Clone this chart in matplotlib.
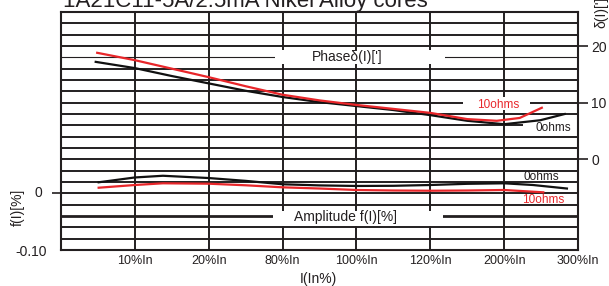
import matplotlib
matplotlib.use('Agg')
import matplotlib.pyplot as plt
from matplotlib.patches import Rectangle

plt.rcParams['font.family'] = ['Liberation Sans', 'DejaVu Sans']

title = "1A21C11-5A/2.5mA Nikel Alloy cores"
x_labels = ['10%In', '20%In', '80%In', '100%In', '120%In', '200%In', '300%In']

# x positions in category units (1 = 10%In ... 7 = 300%In)
phase_x_0ohm = [0.47, 1.0, 1.5, 2.0, 2.5, 3.0, 3.5, 4.0, 4.5, 5.0, 5.5, 6.0, 6.49, 6.82]
phase_0ohm = [17.2, 16.1, 14.7, 13.4, 12.1, 11.0, 10.1, 9.4, 8.7, 7.8, 6.8, 6.2, 6.9, 8.0]
phase_x_10ohm = [0.49, 1.0, 1.5, 2.0, 2.5, 3.0, 3.5, 4.0, 4.5, 5.0, 5.5, 5.9, 6.21, 6.51]
phase_10ohm = [18.8, 17.5, 16.0, 14.5, 12.9, 11.4, 10.4, 9.6, 8.9, 8.2, 7.1, 6.8, 7.3, 9.1]
amp_x_0ohm = [0.51, 1.0, 1.38, 2.0, 2.5, 3.0, 3.5, 4.0, 4.5, 5.0, 5.5, 6.0, 6.39, 6.85]
amp_0ohm = [0.0195, 0.028, 0.031, 0.027, 0.022, 0.016, 0.014, 0.013, 0.0133, 0.0147,
            0.0168, 0.0177, 0.0147, 0.0085]
amp_x_10ohm = [0.51, 1.0, 1.38, 2.0, 2.5, 3.0, 3.5, 4.0, 4.5, 5.0, 5.5, 6.0, 6.53]
amp_10ohm = [0.0099, 0.0147, 0.0177, 0.017, 0.0142, 0.0106, 0.0085, 0.0059, 0.005,
             0.0046, 0.005, 0.0059, 0.0018]

DARK = '#231f20'
RED = '#e8262a'
W, H = 609, 286
L, R, T, B = 61, 578, 12, 250

fig = plt.figure(figsize=(W / 100, H / 100), dpi=100)
ax = fig.add_axes([L / W, (H - B) / H, (R - L) / W, (B - T) / H])
ax.set_xlim(0, 7)
ax.set_ylim(-0.10, 0.32)

# grid
for k in range(1, 21):
    lw = 1.4
    if k == 18:
        lw = 2.0
    if k == 4:
        lw = 0.8
    ax.axhline(0.32 - 0.02 * k, color=DARK, lw=lw, zorder=1)
for i in range(1, 7):
    ax.axvline(i, color=DARK, lw=1.4, zorder=1)
for s in ax.spines.values():
    s.set_linewidth(1.5)
    s.set_color(DARK)


def pa(x, y):
    return ((x - L) / (R - L), (B - y) / (B - T))


def box(x0, y0, x1, y1):
    ax.add_patch(Rectangle(pa(x0, y1), (x1 - x0) / (R - L), (y1 - y0) / (B - T),
                           transform=ax.transAxes, fc='white', ec='none', zorder=2))


box(275, 50, 445, 64)
box(273, 211, 443, 226)
box(463, 97, 530, 110)
box(523, 119, 576.5, 135)

ax.set_xticks(range(1, 8))
ax.set_xticklabels(x_labels)
ax.tick_params(axis='x', length=0, pad=3.5, labelsize=9, labelcolor=DARK)
ax.set_yticks([0])
ax.set_yticklabels([''])
ax.tick_params(axis='y', length=6.5, width=1.2, color=DARK)

ax.plot(amp_x_0ohm, amp_0ohm, color='#111111', lw=1.6, zorder=3)
ax.plot(amp_x_10ohm, amp_10ohm, color=RED, lw=1.6, zorder=3)

ax2 = ax.twinx()
ax2.set_ylim(-16, 26)
for s in ax2.spines.values():
    s.set_visible(False)
ax2.set_yticks([0, 10, 20])
ax2.tick_params(axis='y', length=7.5, width=1.2, pad=2, labelsize=10,
                color=DARK, labelcolor=DARK)
ax2.plot(phase_x_0ohm, phase_0ohm, color='#111111', lw=1.6, zorder=3)
ax2.plot(phase_x_10ohm, phase_10ohm, color=RED, lw=1.6, zorder=3)


def ft(x, y, s, **kw):
    kw.setdefault('color', DARK)
    kw.setdefault('ha', 'center')
    kw.setdefault('va', 'center')
    fig.text(x / W, 1 - y / H, s, zorder=5, **kw)


ft(63, 7, title, fontsize=16, ha='left', va='baseline')
ft(601, 12, "δ(I)[']", fontsize=10, rotation=90)
ft(18, 207, 'f(I)[%]', fontsize=10, rotation=90)
ft(318, 279, 'I(In%)', fontsize=10)
ft(42, 193, '0', fontsize=10, ha='right')
ft(47, 252, '-0.10', fontsize=10, ha='right')
ft(347, 57, "Phaseδ(I)[']", fontsize=10)
ft(345, 217, 'Amplitude f(I)[%]', fontsize=10)
ft(498, 105, '10ohms', fontsize=8.5, color=RED)
ft(553, 128, '0ohms', fontsize=8.5)
ft(541, 177, '0ohms', fontsize=8.5)
ft(543, 200, '10ohms', fontsize=8.5, color=RED)

fig.savefig('out.png', dpi=100)
